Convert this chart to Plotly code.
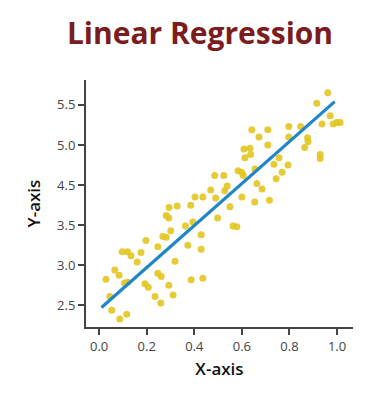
import plotly.graph_objects as go

x_vals = [0.029, 0.045, 0.053, 0.066, 0.084, 0.087, 0.097, 0.107, 0.120, 0.116,
          0.119, 0.134, 0.160, 0.176, 0.193, 0.197, 0.207, 0.235, 0.247, 0.247,
          0.261, 0.259, 0.268, 0.282, 0.282, 0.293, 0.294, 0.293, 0.301, 0.311,
          0.319, 0.328, 0.363, 0.373, 0.385, 0.387, 0.394, 0.403, 0.429, 0.429,
          0.436, 0.436, 0.469, 0.486, 0.490, 0.498, 0.524, 0.528, 0.538, 0.550,
          0.563, 0.579, 0.584, 0.599, 0.606, 0.600, 0.609, 0.634, 0.637, 0.613,
          0.642, 0.655, 0.654, 0.663, 0.672, 0.685, 0.709, 0.709, 0.716, 0.735,
          0.744, 0.756, 0.769, 0.794, 0.797, 0.797, 0.847, 0.864, 0.876, 0.878,
          0.929, 0.929, 0.915, 0.937, 0.961, 0.971, 0.984, 0.999, 1.013]
y_vals = [2.825, 2.61, 2.44, 2.94, 2.875, 2.33, 3.17, 2.78, 2.79, 2.39,
          3.17, 3.12, 3.04, 3.16, 2.77, 3.31, 2.725, 2.61, 3.23, 2.90,
          2.86, 2.53, 3.36, 3.35, 3.62, 3.59, 3.72, 2.75, 3.43, 2.63,
          3.05, 3.74, 3.49, 3.25, 3.75, 2.82, 3.54, 3.85, 3.38, 3.20,
          3.85, 2.84, 3.94, 4.12, 3.84, 3.59, 4.12, 3.93, 3.99, 3.73,
          3.49, 3.48, 4.18, 4.16, 4.12, 3.85, 4.45, 4.46, 4.38, 4.34,
          4.69, 4.20, 3.79, 4.02, 4.60, 3.95, 4.69, 4.50, 3.81, 4.26,
          4.08, 4.34, 4.16, 4.25, 4.73, 4.60, 4.73, 4.47, 4.59, 4.54,
          4.38, 4.33, 5.02, 4.76, 5.15, 4.865, 4.76, 4.78, 4.78]

fit_x = [0.01, 0.99]
fit_intercept = 2.447
fit_slope = 2.62
fit_y = [fit_intercept + fit_slope * v for v in fit_x]

x_ticks = [0.0, 0.2, 0.4, 0.6, 0.8, 1.0]
x_tick_text = ["0.0", "0.2", "0.4", "0.6", "0.8", "1.0"]
y_ticks = [2.5, 3.0, 3.5, 4.0, 4.5, 5.0]
y_tick_text = ["2.5", "3.0", "3.5", "4.5", "5.0", "5.5"]

fig = go.Figure()
fig.add_trace(go.Scatter(
    x=x_vals, y=y_vals, mode="markers",
    marker=dict(color="#e3c521", size=7, opacity=0.9),
    showlegend=False, hoverinfo="skip"))
fig.add_trace(go.Scatter(
    x=fit_x, y=fit_y, mode="lines",
    line=dict(color="#1e86c8", width=3.2),
    showlegend=False, hoverinfo="skip"))

axis_common = dict(
    showgrid=False, zeroline=False, showline=True, linecolor="#444444",
    linewidth=2, ticks="outside", ticklen=6, tickwidth=2, tickcolor="#444444",
    tickfont=dict(family="Open Sans", size=13, color="#444444"),
)

fig.update_layout(
    width=384, height=386,
    paper_bgcolor="white", plot_bgcolor="white",
    margin=dict(l=78, r=39, t=72, b=67),
    title=dict(text="<b>Linear Regression</b>", x=0.5, xanchor="center",
               y=0.933, yanchor="middle",
               font=dict(family="Open Sans", size=30, color="#7b1c1f")),
    xaxis=dict(range=[-0.055, 1.067], tickvals=x_ticks, ticktext=x_tick_text,
               title=dict(text="X-axis", standoff=10,
                          font=dict(family="Open Sans", size=17, color="#111111", weight=600)),
               **axis_common),
    yaxis=dict(range=[2.231, 5.31], tickvals=y_ticks, ticktext=y_tick_text,
               title=dict(text="Y-axis", standoff=12,
                          font=dict(family="Open Sans", size=17, color="#111111", weight=600)),
               **axis_common),
)

fig.write_html("out.html")
